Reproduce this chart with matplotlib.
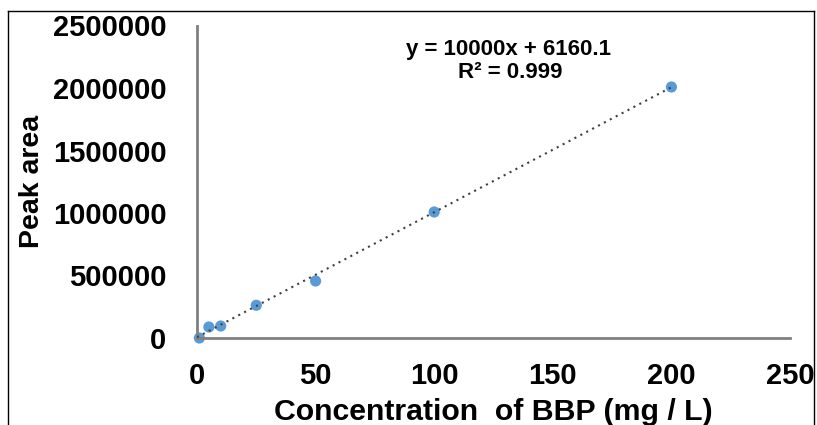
import matplotlib
matplotlib.use("Agg")
import matplotlib.pyplot as plt
from matplotlib.lines import Line2D
import numpy as np

plt.rcParams['font.family'] = ['Liberation Sans', 'DejaVu Sans']

conc = [1, 5, 10, 25, 50, 100, 200]
area = [0, 88000, 96000, 262000, 456000, 1008000, 2008000]
slope = 10000
intercept = 6160.1
eq_text = "y = 10000x + 6160.1"
r2_text = "R² = 0.999"
xticks = [0, 50, 100, 150, 200, 250]
yticks = [0, 500000, 1000000, 1500000, 2000000, 2500000]

fig = plt.figure(figsize=(8.17, 4.25), dpi=100)
ax = fig.add_axes([197/817, 1-338/425, (790-197)/817, (338-25.5)/425])

xfit = np.array([0, max(conc)])
ax.plot(xfit, slope*xfit + intercept, linestyle=(0, (1, 2.2)), color='#404040', lw=1.5, zorder=3)
ax.scatter(conc, area, s=65, color='#5B9BD5', zorder=2, edgecolors='none', clip_on=False)

ax.set_xlim(0, 250)
ax.set_ylim(0, 2500000)
ax.set_xticks(xticks)
ax.set_yticks(yticks)
ax.set_xticklabels([str(t) for t in xticks])
ax.set_yticklabels([str(t) for t in yticks])
ax.tick_params(length=0, labelsize=21)
ax.tick_params(axis='y', pad=22)
ax.tick_params(axis='x', pad=17)
for lab in ax.get_xticklabels() + ax.get_yticklabels():
    lab.set_fontweight('bold')

for s in ['top', 'right']:
    ax.spines[s].set_visible(False)
for s in ['left', 'bottom']:
    ax.spines[s].set_color('#808080')
    ax.spines[s].set_linewidth(2)

ax.set_xlabel("Concentration  of BBP (mg / L)", fontsize=21.8, fontweight='bold')
ax.set_ylabel("Peak area", fontsize=20.5, fontweight='bold')
ax.yaxis.set_label_coords((45-197)/593, 0.5)
ax.xaxis.set_label_coords(0.5, (338-398)/312.5)

fig.text(508/817, 1-50/425, eq_text, ha='center', va='center', fontsize=16, fontweight='bold')
fig.text(510/817, 1-73/425, r2_text, ha='center', va='center', fontsize=16, fontweight='bold')

# outer frame
fig.add_artist(Line2D([8/817, 8/817], [0, 1-11/425], transform=fig.transFigure, color='black', lw=1))
fig.add_artist(Line2D([8/817, 814/817], [1-11/425, 1-11/425], transform=fig.transFigure, color='black', lw=1))
fig.add_artist(Line2D([814/817, 814/817], [0, 1-11/425], transform=fig.transFigure, color='black', lw=1))

fig.savefig("out.png", dpi=100)
